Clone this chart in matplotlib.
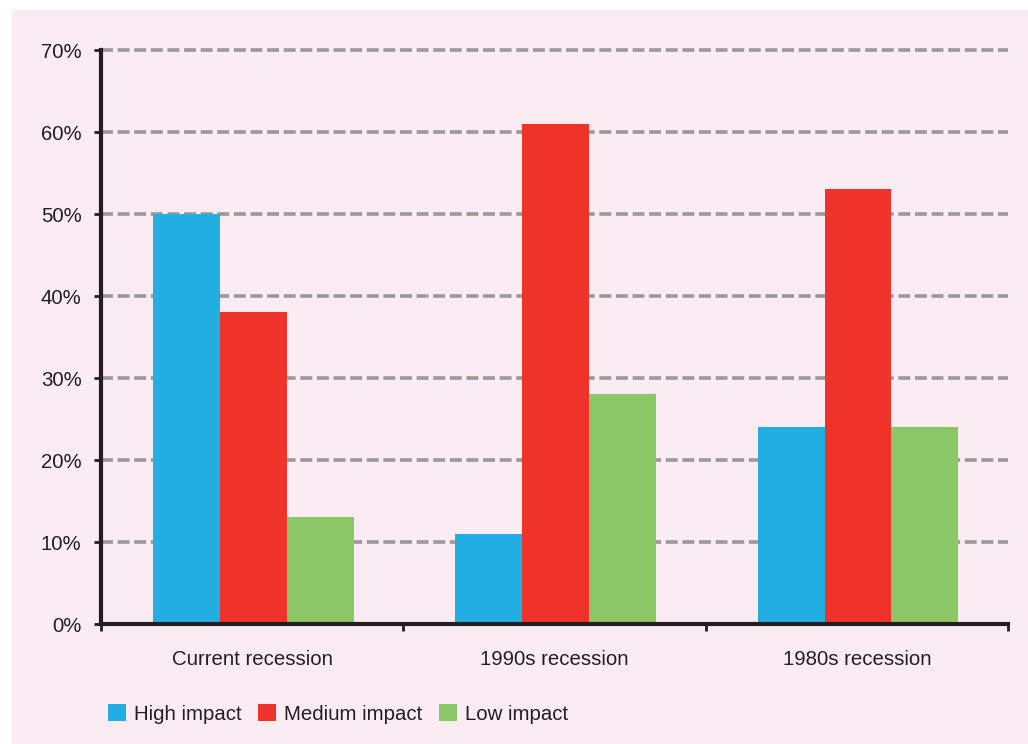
import numpy as np
import matplotlib.pyplot as plt
from matplotlib.patches import Rectangle, Patch

plt.rcParams['font.family'] = ['Liberation Sans', 'DejaVu Sans']

recessions = ['Current recession', '1990s recession', '1980s recession']
high = [50, 11, 24]
medium = [38, 61, 53]
low = [13, 28, 24]
series_names = ['High impact', 'Medium impact', 'Low impact']
colors = ['#22ade3', '#ef332b', '#8cc765']
yticks = [0, 10, 20, 30, 40, 50, 60, 70]

bg = '#fbebf2'
dark = '#231f20'
fs = 14.7

fig = plt.figure(figsize=(10.28, 7.44), dpi=100)
fig.patch.set_facecolor('white')
fig.patches.append(Rectangle((12 / 1028, 0), 1, 1 - 10 / 744, transform=fig.transFigure,
                             facecolor=bg, edgecolor='none', zorder=-10))

ax = fig.add_axes([101 / 1028, 1 - 624 / 744, 907 / 1028, 574 / 744])
ax.set_facecolor('none')

x = np.arange(len(recessions))
w = 0.221
for i, (vals, c) in enumerate(zip([high, medium, low], colors)):
    ax.bar(x + 0.004 + (i - 1) * w, vals, width=w, color=c, zorder=3, linewidth=0)

ax.set_xlim(-0.5, 2.5)
ax.set_ylim(0, 70)
ax.set_yticks(yticks)
ax.set_yticklabels([f'{t}%' for t in yticks], fontsize=fs, color=dark)
for t in yticks[1:]:
    ax.axhline(t, color='#999999', lw=2.6, ls=(0, (3.3, 1.3)), zorder=2, clip_on=False)

# category labels between boundary ticks
ax.set_xticks([-0.5, 0.5, 1.5, 2.5])
ax.set_xticklabels([])
ax.set_xticks(x, minor=True)
ax.set_xticklabels(recessions, minor=True, fontsize=fs, color=dark)
ax.tick_params(axis='x', which='minor', length=0, pad=19)
ax.tick_params(axis='x', which='major', length=5, width=2, color=dark, direction='out')
ax.tick_params(axis='y', length=5, width=2, color=dark, pad=9)

for s in ['top', 'right']:
    ax.spines[s].set_visible(False)
for s in ['left', 'bottom']:
    ax.spines[s].set_linewidth(3)
    ax.spines[s].set_color(dark)
    ax.spines[s].set_zorder(4)

handles = [Patch(facecolor=c, edgecolor='none') for c in colors]
fig.legend(handles, series_names, loc='lower left', bbox_to_anchor=(90 / 1028, 2 / 744),
           ncol=3, frameon=False, fontsize=fs, handlelength=0.85, handleheight=0.85,
           handletextpad=0.4, columnspacing=0.83, labelcolor=dark)

fig.savefig('out.png', dpi=100, facecolor=fig.get_facecolor())
